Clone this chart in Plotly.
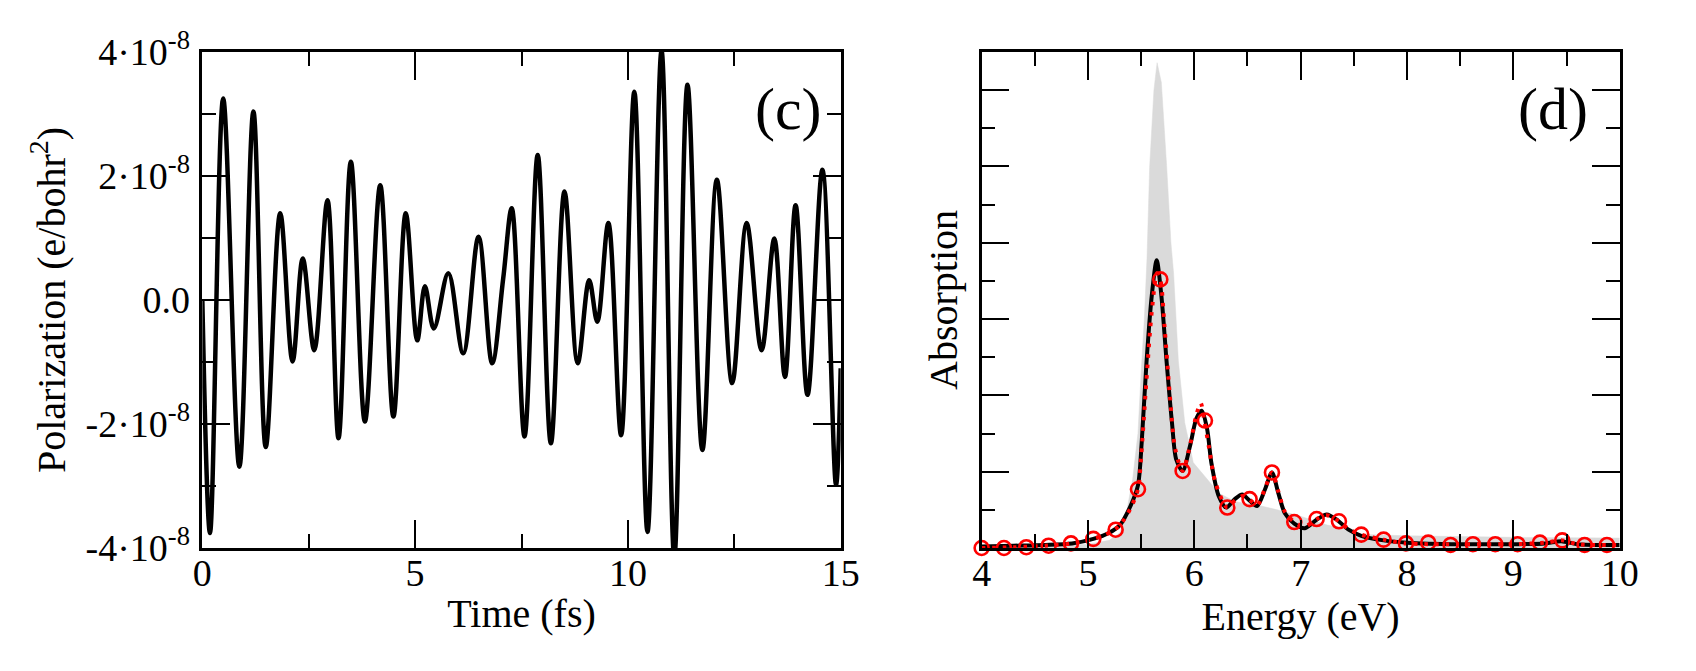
import plotly.graph_objects as go

# ---------------- Panel (c): polarization vs time (values in units of 1e-8 e/bohr^2)
time_fs = [0.00, 0.18, 0.49, 0.87, 1.20, 1.49, 1.83, 2.12, 2.36, 2.63, 2.94, 3.20, 3.49,
           3.82, 4.18, 4.49, 4.78, 5.05, 5.23, 5.44, 5.78, 6.13, 6.49, 6.81, 7.07, 7.27,
           7.57, 7.88, 8.19, 8.51, 8.82, 9.09, 9.28, 9.54, 9.84, 10.15, 10.46, 10.79, 11.09,
           11.40, 11.75, 12.09, 12.45, 12.79, 13.14, 13.44, 13.69, 13.94, 14.22, 14.57, 14.89, 15.00]
polarization = [0.00, -3.76, 3.25, -2.69, 3.04, -2.37, 1.40, -0.99, 0.67, -0.81, 1.61, -2.23, 2.23,
                -1.96, 1.85, -1.88, 1.40, -0.65, 0.22, -0.46, 0.43, -0.86, 1.02, -1.02, 0.35, 1.48,
                -2.20, 2.34, -2.31, 1.75, -1.02, 0.32, -0.35, 1.24, -2.18, 3.36, -3.74, 4.02, -4.15,
                3.47, -2.42, 1.94, -1.34, 1.24, -0.81, 0.99, -1.24, 1.53, -1.53, 2.10, -2.98, -1.10]
pol_tickvals = [-4, -2, 0, 2, 4]
pol_ticktext = ["-4·10<sup>-8</sup>", "-2·10<sup>-8</sup>", "0.0", "2·10<sup>-8</sup>", "4·10<sup>-8</sup>"]

# ---------------- Panel (d): absorption spectra (arbitrary units)
gray_E = [4.0, 4.5, 5.0, 5.2, 5.3, 5.36, 5.42, 5.47, 5.50, 5.53, 5.555, 5.58, 5.62, 5.65,
          5.69, 5.72, 5.74, 5.78, 5.805, 5.85, 5.91, 5.99, 6.07, 6.23, 6.38, 6.63, 6.78,
          6.99, 7.25, 7.48, 7.52, 8.0, 9.0, 10.0]
gray_A = [0.01, 0.02, 0.05, 0.10, 0.20, 0.45, 0.90, 1.50, 2.30, 3.00, 3.80, 5.00, 6.00, 6.36,
          6.10, 5.50, 5.00, 4.00, 3.60, 2.45, 1.64, 1.12, 0.99, 0.72, 0.61, 0.55, 0.50,
          0.42, 0.30, 0.25, 0.18, 0.16, 0.14, 0.13]

black_E = [4.0, 4.3, 4.6, 4.85, 5.05, 5.2, 5.3, 5.4, 5.47, 5.505, 5.55, 5.60, 5.646, 5.69,
           5.74, 5.79, 5.83, 5.89, 5.96, 6.02, 6.07, 6.12, 6.16, 6.23, 6.30, 6.38, 6.45,
           6.52, 6.59, 6.665, 6.73, 6.79, 6.85, 6.94, 7.04, 7.15, 7.245, 7.35, 7.45, 7.57,
           7.78, 8.0, 8.5, 9.0, 9.3, 9.45, 9.6, 10.0]
black_A = [0.02, 0.03, 0.04, 0.06, 0.12, 0.20, 0.30, 0.55, 0.82, 1.38, 2.43, 3.31, 3.77, 3.31,
           2.43, 1.64, 1.16, 1.01, 1.34, 1.70, 1.80, 1.56, 1.12, 0.68, 0.53, 0.64, 0.70,
           0.62, 0.55, 0.77, 0.99, 0.72, 0.46, 0.32, 0.26, 0.37, 0.44, 0.36, 0.24, 0.16,
           0.10, 0.07, 0.05, 0.05, 0.06, 0.09, 0.05, 0.04]

red_E = [4.0, 4.3, 4.6, 4.85, 5.05, 5.2, 5.3, 5.4, 5.47, 5.50, 5.55, 5.60, 5.65, 5.68,
         5.72, 5.77, 5.82, 5.89, 5.96, 6.02, 6.06, 6.094, 6.14, 6.20, 6.31, 6.38, 6.45,
         6.515, 6.59, 6.665, 6.73, 6.79, 6.85, 6.94, 7.04, 7.15, 7.245, 7.36, 7.45, 7.57,
         7.78, 7.99, 8.5, 9.0, 9.3, 9.46, 9.6, 10.0]
red_A = [0.0, 0.01, 0.03, 0.06, 0.12, 0.20, 0.30, 0.52, 0.77, 1.20, 2.20, 3.10, 3.60, 3.52,
         2.90, 2.00, 1.30, 1.01, 1.35, 1.75, 1.90, 1.67, 1.30, 0.85, 0.53, 0.62, 0.68,
         0.64, 0.56, 0.78, 0.99, 0.74, 0.48, 0.34, 0.28, 0.38, 0.43, 0.35, 0.25, 0.175,
         0.11, 0.06, 0.05, 0.05, 0.07, 0.10, 0.05, 0.04]

circle_E = [4.00, 4.21, 4.42, 4.63, 4.84, 5.05, 5.26, 5.47, 5.68, 5.89, 6.10, 6.31, 6.52, 6.73,
            6.94, 7.15, 7.36, 7.57, 7.78, 7.99, 8.20, 8.41, 8.62, 8.83, 9.04, 9.25, 9.46, 9.67, 9.88]
circle_A = [0.00, 0.00, 0.01, 0.03, 0.06, 0.12, 0.24, 0.77, 3.52, 1.01, 1.67, 0.53, 0.64, 0.99,
            0.34, 0.38, 0.35, 0.175, 0.11, 0.06, 0.07, 0.04, 0.05, 0.05, 0.05, 0.07, 0.10, 0.04, 0.04]

FONT = "Liberation Serif"

fig = go.Figure()

fig.add_trace(go.Scatter(x=time_fs, y=polarization, mode="lines",
                         line=dict(color="black", width=4.5, shape="spline", smoothing=1.0),
                         xaxis="x", yaxis="y", showlegend=False))

fig.add_trace(go.Scatter(x=gray_E, y=gray_A, mode="lines", fill="tozeroy",
                         fillcolor="#dadada", line=dict(color="#dadada", width=0.5),
                         xaxis="x2", yaxis="y2", showlegend=False))
fig.add_trace(go.Scatter(x=black_E, y=black_A, mode="lines",
                         line=dict(color="black", width=4, shape="spline", smoothing=0.8),
                         xaxis="x2", yaxis="y2", showlegend=False))
fig.add_trace(go.Scatter(x=red_E, y=red_A, mode="lines",
                         line=dict(color="#ff0000", width=4, dash="3.5px,7px", shape="spline", smoothing=0.8),
                         xaxis="x2", yaxis="y2", showlegend=False))
fig.add_trace(go.Scatter(x=circle_E, y=circle_A, mode="markers",
                         marker=dict(symbol="circle-open", size=14, color="#ff0000",
                                     line=dict(color="#ff0000", width=2.6)),
                         cliponaxis=False, xaxis="x2", yaxis="y2", showlegend=False))

tickfont = dict(family=FONT, size=38, color="black")
titlefont = dict(family=FONT, size=40, color="black")
common = dict(showline=True, linewidth=2.5, linecolor="black", mirror="ticks",
              ticks="inside", ticklen=28, tickwidth=2, tickcolor="black",
              showgrid=False, zeroline=False, tickfont=tickfont, automargin=False)

fig.update_layout(
    width=1696, height=671, autosize=False,
    margin=dict(l=0, r=0, t=0, b=0, autoexpand=False),
    paper_bgcolor="white", plot_bgcolor="white",
    font=dict(family=FONT, color="black"),
    xaxis=dict(domain=[0.1193, 0.4957], range=[0, 15], tick0=0, dtick=5,
               minor=dict(dtick=2.5, ticklen=14, tickwidth=2, ticks="inside", tickcolor="black"),
               ticklabelstandoff=-10,
               title=dict(text="Time (fs)", font=titlefont, standoff=6),
               anchor="y", **common),
    yaxis=dict(domain=[0.1833, 0.9225], range=[-4, 4], tickvals=pol_tickvals, ticktext=pol_ticktext,
               minor=dict(tickvals=[-3, -1, 1, 3], ticklen=14, tickwidth=2, ticks="inside", tickcolor="black"),
               ticklabelstandoff=2,
               title=dict(text="Polarization (e/bohr<sup>2</sup>)", font=titlefont, standoff=8),
               anchor="x", **common),
    xaxis2=dict(domain=[0.5788, 0.955], range=[4, 10], tick0=4, dtick=1,
                minor=dict(dtick=0.5, ticklen=14, tickwidth=2, ticks="inside", tickcolor="black"),
                ticklabelstandoff=-10,
                title=dict(text="Energy (eV)", font=titlefont, standoff=6),
                anchor="y2", **common),
    yaxis2=dict(domain=[0.1833, 0.9225], range=[0, 6.5], tick0=0, dtick=1,
                minor=dict(dtick=0.5, ticklen=14, tickwidth=2, ticks="inside", tickcolor="black"),
                showticklabels=False,
                title=dict(text="Absorption", font=titlefont, standoff=9),
                anchor="x2", **common),
    annotations=[
        dict(text="(c)", xref="x domain", yref="y domain", x=0.918, y=0.885,
             xanchor="center", yanchor="middle", showarrow=False,
             font=dict(family=FONT, size=60, color="black")),
        dict(text="(d)", xref="x2 domain", yref="y2 domain", x=0.896, y=0.885,
             xanchor="center", yanchor="middle", showarrow=False,
             font=dict(family=FONT, size=60, color="black")),
    ],
)

fig.write_html("out.html")
